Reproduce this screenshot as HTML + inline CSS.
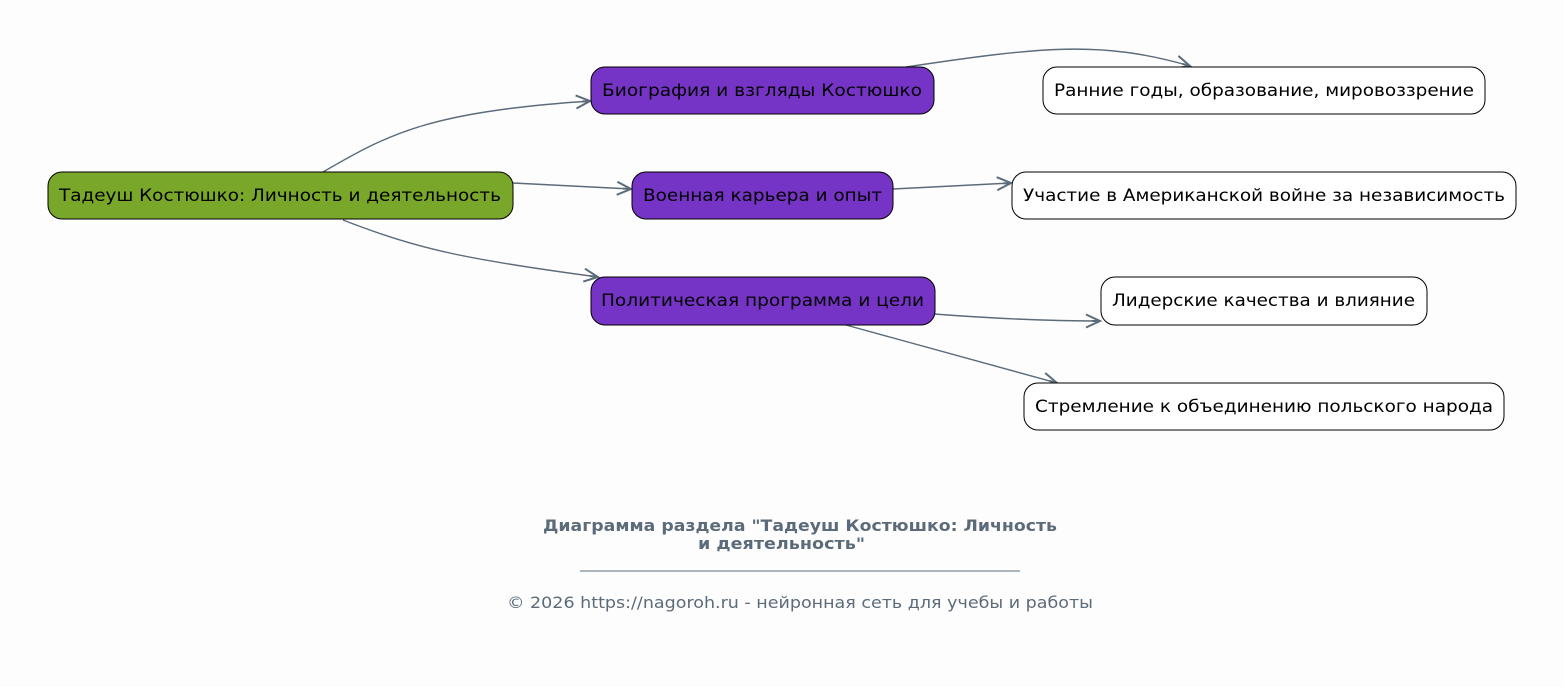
<!DOCTYPE html>
<html><head><meta charset="utf-8"><style>
html,body{margin:0;padding:0;background:#fdfdfd;}
svg{display:block;font-family:"DejaVu Sans","Liberation Sans",sans-serif;}
</style></head><body>
<svg width="1564" height="687" viewBox="0 0 1564 687" xmlns="http://www.w3.org/2000/svg">
<rect width="1564" height="687" fill="#fdfdfd"/>
<defs>
<marker id="a" markerWidth="20" markerHeight="16" refX="16" refY="8" orient="auto" markerUnits="userSpaceOnUse">
<path d="M2,1.5 L16,8 L2,14.5 M16,8 L8,8" fill="none" stroke="#5c6b7a" stroke-width="2"/>
</marker>
</defs>
<g fill="none" stroke="#5c6b7a" stroke-width="1.4">
<path d="M323,172 C390,133 430,112 590,101" marker-end="url(#a)"/>
<path d="M513,183 L631,189" marker-end="url(#a)"/>
<path d="M343,220 C420,250 470,260 598,277" marker-end="url(#a)"/>
<path d="M906,67 C1040,47 1100,40 1190,66" marker-end="url(#a)"/>
<path d="M893,189 L1011,183" marker-end="url(#a)"/>
<path d="M934,314 C1000,319 1050,321 1100,321" marker-end="url(#a)"/>
<path d="M846,325 L1057,383" marker-end="url(#a)"/>
</g>
<g stroke="#000" stroke-width="1">
<rect x="48" y="172" width="465" height="47" rx="14" fill="#78a72a"/>
<rect x="591" y="67" width="343" height="47" rx="14" fill="#7634c6"/>
<rect x="632" y="172" width="261" height="47" rx="14" fill="#7634c6"/>
<rect x="591" y="277" width="344" height="48" rx="14" fill="#7634c6"/>
<rect x="1043" y="67" width="442" height="47" rx="14" fill="#fff"/>
<rect x="1012" y="172" width="504" height="47" rx="14" fill="#fff"/>
<rect x="1101" y="277" width="326" height="48" rx="14" fill="#fff"/>
<rect x="1024" y="383" width="480" height="47" rx="14" fill="#fff"/>
</g>
<g font-size="17" fill="#000" lengthAdjust="spacingAndGlyphs">
<text x="59" y="201" textLength="442" lengthAdjust="spacingAndGlyphs">Тадеуш Костюшко: Личность и деятельность</text>
<text x="602" y="96" textLength="320" lengthAdjust="spacingAndGlyphs">Биография и взгляды Костюшко</text>
<text x="643" y="201" textLength="239" lengthAdjust="spacingAndGlyphs">Военная карьера и опыт</text>
<text x="601" y="306" textLength="323" lengthAdjust="spacingAndGlyphs">Политическая программа и цели</text>
<text x="1054" y="96" textLength="420" lengthAdjust="spacingAndGlyphs">Ранние годы, образование, мировоззрение</text>
<text x="1023" y="201" textLength="482" lengthAdjust="spacingAndGlyphs">Участие в Американской войне за независимость</text>
<text x="1112" y="306" textLength="303" lengthAdjust="spacingAndGlyphs">Лидерские качества и влияние</text>
<text x="1035" y="412" textLength="458" lengthAdjust="spacingAndGlyphs">Стремление к объединению польского народа</text>
</g>
<g fill="#5c6b7a">
<text x="543" y="531" font-size="16" font-weight="bold" textLength="514" lengthAdjust="spacingAndGlyphs">Диаграмма раздела "Тадеуш Костюшко: Личность</text>
<text x="698" y="549" font-size="16" font-weight="bold" textLength="167" lengthAdjust="spacingAndGlyphs">и деятельность"</text>
<line x1="580" y1="571" x2="1020" y2="571" stroke="#5c6b7a" stroke-width="1"/>
<text x="507" y="608" font-size="16" textLength="586" lengthAdjust="spacingAndGlyphs">© 2026 https://nagoroh.ru - нейронная сеть для учебы и работы</text>
</g>
</svg>
</body></html>
